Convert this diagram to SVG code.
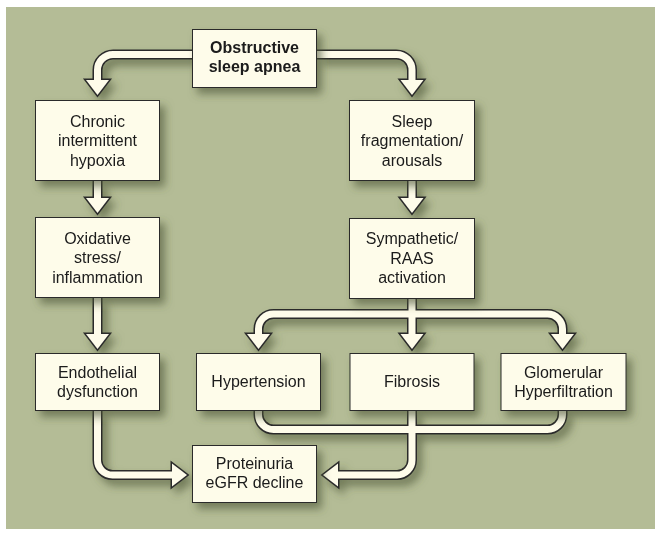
<svg xmlns="http://www.w3.org/2000/svg" width="662" height="537" viewBox="0 0 662 537">
<defs>
<filter id="sh" x="-20%" y="-20%" width="160%" height="160%">
<feDropShadow dx="5" dy="6" stdDeviation="4" flood-color="#4a5130" flood-opacity="0.6"/>
</filter>
</defs>
<style>
.box{fill:#fefcea;stroke:#2b2b2b;stroke-width:1}
.t{font-family:"Liberation Sans",Arial,sans-serif;font-size:16px;fill:#1a1a1a;text-anchor:middle}
.b{font-weight:bold}
.so{fill:none;stroke:#2b2b2b;stroke-width:10}
.si{fill:none;stroke:#fefcea;stroke-width:7}
.ho{fill:#2b2b2b;stroke:#2b2b2b;stroke-width:3;stroke-linejoin:miter}
.hi{fill:#fefcea}
</style>
<rect x="0" y="0" width="662" height="537" fill="#ffffff"/>
<rect x="6" y="7" width="649" height="522" fill="#b4bc96"/>
<g id="connectors" filter="url(#sh)">
<g id="outlines">
<path class="so" d="M192,54.5 H113 A15.5,15.5 0 0 0 97.5,70 V81"/>
<path class="so" d="M317,54.5 H396.5 A15.5,15.5 0 0 1 412,70 V81"/>
<path class="so" d="M97.5,181 V199"/>
<path class="so" d="M412,181 V199"/>
<path class="so" d="M97.5,298 V335"/>
<path class="so" d="M412,299 V336"/>
<path class="so" d="M258.5,336 V329 A15,15 0 0 1 273.5,314 H547.5 A15,15 0 0 1 562.5,329 V336"/>
<path class="so" d="M258.5,410 V414.5 A15,15 0 0 0 273.5,429.5 H547.5 A15,15 0 0 0 562.5,414.5 V410"/>
<path class="so" d="M412,410 V460 A15,15 0 0 1 397,475 H337"/>
<path class="so" d="M97.5,410 V460 A15,15 0 0 0 112.5,475 H173"/>
<polygon class="ho" points="86,80 109,80 97.5,95"/>
<polygon class="ho" points="400.5,80 423.5,80 412,95"/>
<polygon class="ho" points="86,198 109,198 97.5,213"/>
<polygon class="ho" points="400.5,198 423.5,198 412,213"/>
<polygon class="ho" points="86,334 109,334 97.5,349"/>
<polygon class="ho" points="247,334 270,334 258.5,349"/>
<polygon class="ho" points="400.5,334 423.5,334 412,349"/>
<polygon class="ho" points="551,334 574,334 562.5,349"/>
<polygon class="ho" points="338,463.5 338,486.5 323,475"/>
<polygon class="ho" points="172,463.5 172,486.5 187,475"/>
</g>
<g id="fills">
<path class="si" d="M192,54.5 H113 A15.5,15.5 0 0 0 97.5,70 V81"/>
<path class="si" d="M317,54.5 H396.5 A15.5,15.5 0 0 1 412,70 V81"/>
<path class="si" d="M97.5,181 V199"/>
<path class="si" d="M412,181 V199"/>
<path class="si" d="M97.5,298 V335"/>
<path class="si" d="M412,299 V336"/>
<path class="si" d="M258.5,336 V329 A15,15 0 0 1 273.5,314 H547.5 A15,15 0 0 1 562.5,329 V336"/>
<path class="si" d="M258.5,410 V414.5 A15,15 0 0 0 273.5,429.5 H547.5 A15,15 0 0 0 562.5,414.5 V410"/>
<path class="si" d="M412,410 V460 A15,15 0 0 1 397,475 H337"/>
<path class="si" d="M97.5,410 V460 A15,15 0 0 0 112.5,475 H173"/>
<polygon class="hi" points="86,80 109,80 97.5,95"/>
<polygon class="hi" points="400.5,80 423.5,80 412,95"/>
<polygon class="hi" points="86,198 109,198 97.5,213"/>
<polygon class="hi" points="400.5,198 423.5,198 412,213"/>
<polygon class="hi" points="86,334 109,334 97.5,349"/>
<polygon class="hi" points="247,334 270,334 258.5,349"/>
<polygon class="hi" points="400.5,334 423.5,334 412,349"/>
<polygon class="hi" points="551,334 574,334 562.5,349"/>
<polygon class="hi" points="338,463.5 338,486.5 323,475"/>
<polygon class="hi" points="172,463.5 172,486.5 187,475"/>
</g>
</g>
<g id="osa" filter="url(#sh)">
<rect class="box" x="192.5" y="29.5" width="124" height="58"/>
<text class="t b" x="254.5" y="53">Obstructive</text>
<text class="t b" x="254.5" y="72">sleep apnea</text>
</g>
<g id="hypoxia" filter="url(#sh)">
<rect class="box" x="35.5" y="100.5" width="124" height="80"/>
<text class="t" x="97.5" y="126.5">Chronic</text>
<text class="t" x="97.5" y="146">intermittent</text>
<text class="t" x="97.5" y="165.5">hypoxia</text>
</g>
<g id="sleepfrag" filter="url(#sh)">
<rect class="box" x="349.5" y="100.5" width="125" height="80"/>
<text class="t" x="412" y="126.5">Sleep</text>
<text class="t" x="412" y="146">fragmentation/</text>
<text class="t" x="412" y="165.5">arousals</text>
</g>
<g id="oxidative" filter="url(#sh)">
<rect class="box" x="35.5" y="217.5" width="124" height="80"/>
<text class="t" x="97.5" y="243.5">Oxidative</text>
<text class="t" x="97.5" y="263">stress/</text>
<text class="t" x="97.5" y="282.5">inflammation</text>
</g>
<g id="sympathetic" filter="url(#sh)">
<rect class="box" x="349.5" y="218.5" width="125" height="80"/>
<text class="t" x="412" y="244">Sympathetic/</text>
<text class="t" x="412" y="263.5">RAAS</text>
<text class="t" x="412" y="283">activation</text>
</g>
<g id="endothelial" filter="url(#sh)">
<rect class="box" x="35.5" y="353.5" width="124" height="57"/>
<text class="t" x="97.5" y="377.5">Endothelial</text>
<text class="t" x="97.5" y="397">dysfunction</text>
</g>
<g id="hypertension" filter="url(#sh)">
<rect class="box" x="196.5" y="353.5" width="124" height="57"/>
<text class="t" x="258.5" y="387">Hypertension</text>
</g>
<g id="fibrosis" filter="url(#sh)">
<rect class="box" x="350" y="353.5" width="124" height="57"/>
<text class="t" x="412" y="387">Fibrosis</text>
</g>
<g id="glomerular" filter="url(#sh)">
<rect class="box" x="501" y="353.5" width="125" height="57"/>
<text class="t" x="563.5" y="377.5">Glomerular</text>
<text class="t" x="563.5" y="397">Hyperfiltration</text>
</g>
<g id="proteinuria" filter="url(#sh)">
<rect class="box" x="192.5" y="445.5" width="124" height="57"/>
<text class="t" x="254.5" y="468.5">Proteinuria</text>
<text class="t" x="254.5" y="488">eGFR decline</text>
</g>
</svg>
